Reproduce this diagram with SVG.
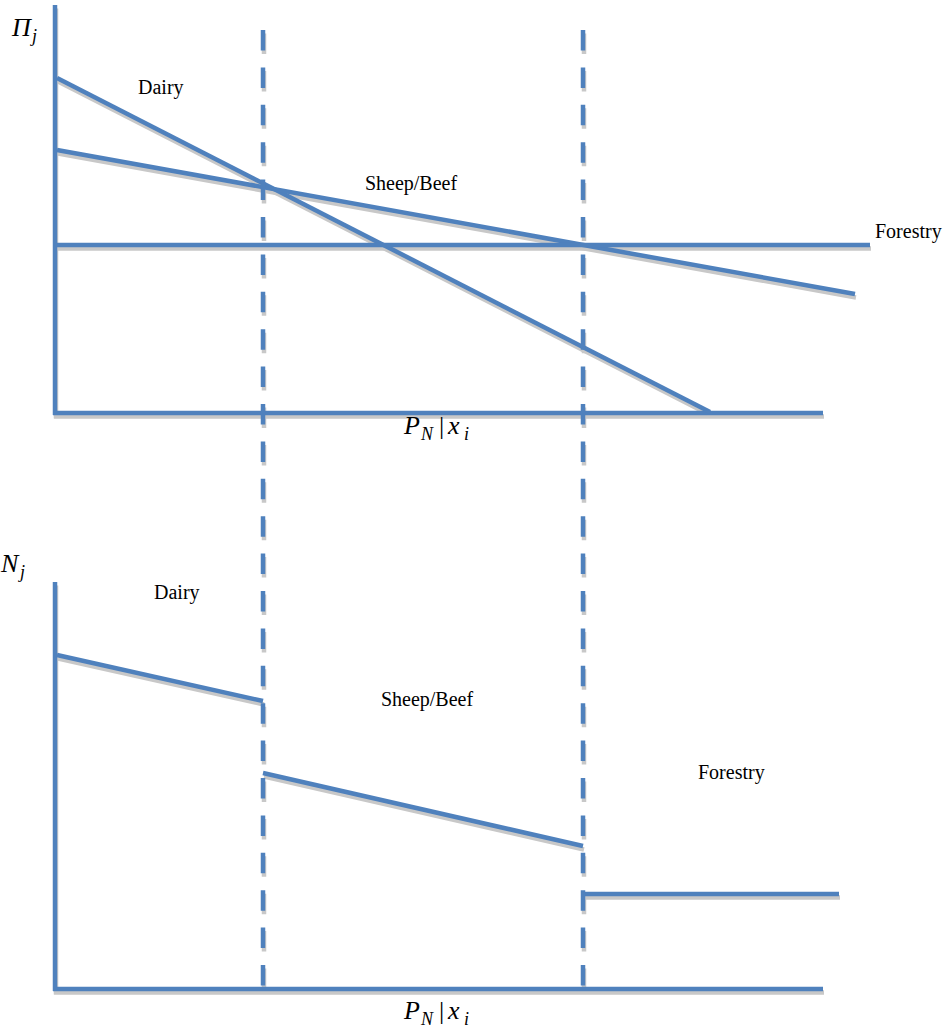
<svg xmlns="http://www.w3.org/2000/svg" xmlns:xlink="http://www.w3.org/1999/xlink" width="950" height="1034" viewBox="0 0 950 1034">
<style>
.ln{fill:none;stroke-width:4.5;stroke-linecap:butt;stroke-linejoin:miter}
.blue{stroke:#4F81BD}
.shadow{stroke:#C8C8C8}
.dash{stroke-dasharray:20.5 16.9}
.lbl{font-family:"Liberation Serif","Times New Roman",serif;font-size:20px;fill:#000}
.math{font-family:"Liberation Serif","Times New Roman",serif;font-style:italic;font-size:26px;fill:#000}
.sub{font-size:18px}
.up{font-style:normal;font-family:"Liberation Serif",serif;font-size:26px}
</style>
<defs>
<g id="geom">
<path d="M55,5 V415 M53,413 H823"/>
<path d="M57,78 L710,412"/>
<path d="M57,150 L855,294"/>
<path d="M57,245 H870"/>
<path d="M55,582 V991 M53,989 H823"/>
<path d="M57,655 L263,701"/>
<path d="M263,773 L583,846"/>
<path d="M583,894 H839"/>
</g>
<g id="dashes">
<path d="M263,30 V990 M583,30 V990"/>
</g>
</defs>
<g id="shadows" transform="translate(1,3.5)">
<use xlink:href="#geom" class="ln shadow"/>
<use xlink:href="#dashes" class="ln shadow dash"/>
</g>
<g id="connectors">
<use xlink:href="#geom" class="ln blue"/>
<use xlink:href="#dashes" class="ln blue dash"/>
</g>
<g id="labels">
<text class="lbl" x="138" y="94">Dairy</text>
<text class="lbl" x="411" y="190" text-anchor="middle">Sheep/Beef</text>
<text class="lbl" x="875" y="238">Forestry</text>
<text class="lbl" x="154" y="599">Dairy</text>
<text class="lbl" x="427" y="706" text-anchor="middle">Sheep/Beef</text>
<text class="lbl" x="698" y="779">Forestry</text>
</g>
<g id="axis-labels">
<text class="math" x="12" y="36">Π</text><text class="math sub" x="32" y="42">j</text>
<text class="math" x="1" y="572">N</text><text class="math sub" x="20" y="578">j</text>
<text class="math" x="404" y="434">P</text><text class="math sub" x="421" y="440">N</text><text class="up" x="439" y="434">|</text><text class="math" x="448" y="434">x</text><text class="math sub" x="464" y="440">i</text>
<text class="math" x="404" y="1019">P</text><text class="math sub" x="421" y="1025">N</text><text class="up" x="439" y="1019">|</text><text class="math" x="448" y="1019">x</text><text class="math sub" x="464" y="1025">i</text>
</g>
</svg>
